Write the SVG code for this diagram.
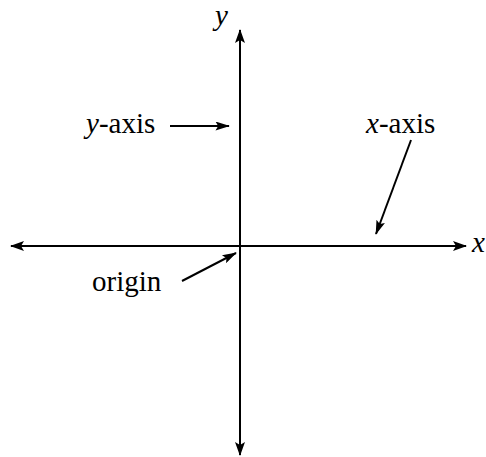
<svg xmlns="http://www.w3.org/2000/svg" width="486" height="457" viewBox="0 0 486 457">
<style>
.ln{stroke:#000;stroke-width:2;fill:none}
.t{font-family:'Liberation Serif','Times New Roman',serif;font-size:29px;fill:#000}
.i{font-style:italic}
</style>
<defs>
<marker id="big" viewBox="0 0 14 10" refX="13" refY="5" markerWidth="14" markerHeight="10" markerUnits="userSpaceOnUse" orient="auto-start-reverse">
<path d="M0,0 L14,5 L0,10 L3,5 Z" fill="#000"/>
</marker>
<marker id="sm" viewBox="0 0 16 10" refX="15" refY="5" markerWidth="16" markerHeight="9" markerUnits="userSpaceOnUse" orient="auto">
<path d="M0,0 L16,5 L0,10 L3,5 Z" fill="#000"/>
</marker>
</defs>
<g id="connectors">
<line class="ln" x1="240" y1="30" x2="240" y2="455" marker-start="url(#big)" marker-end="url(#big)"/>
<line class="ln" x1="11" y1="246" x2="466" y2="246" marker-start="url(#big)" marker-end="url(#big)"/>
<line class="ln" x1="170" y1="126" x2="229" y2="126" marker-end="url(#sm)"/>
<line class="ln" x1="411" y1="140" x2="376" y2="234" marker-end="url(#sm)"/>
<line class="ln" x1="182" y1="281" x2="236" y2="253" marker-end="url(#sm)"/>
</g>
<g id="y-label"><text class="t i" x="215" y="25">y</text></g>
<g id="x-label"><text class="t i" x="472" y="252">x</text></g>
<g id="y-axis-label"><text class="t" x="86" y="133"><tspan class="i">y</tspan>-axis</text></g>
<g id="x-axis-label"><text class="t" x="366" y="133"><tspan class="i">x</tspan>-axis</text></g>
<g id="origin-label"><text class="t" x="92" y="291">origin</text></g>
</svg>
